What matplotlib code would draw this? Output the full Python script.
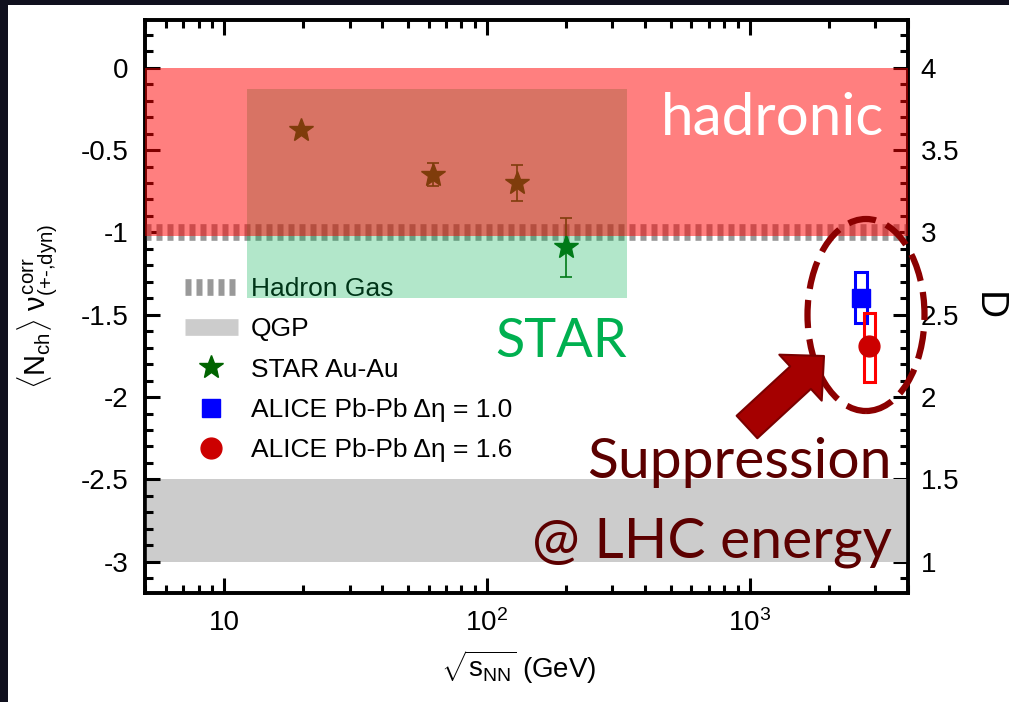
import matplotlib
matplotlib.use("Agg")
import matplotlib.pyplot as plt
import matplotlib.patches as mpatches
from matplotlib.lines import Line2D
from matplotlib.ticker import MultipleLocator, FixedLocator, FixedFormatter, LogLocator, NullFormatter, FormatStrFormatter

# data
star_x = [19.6, 62.4, 130.0, 200.0]
star_y = [-0.38, -0.65, -0.70, -1.09]
star_err = [0.0, 0.07, 0.11, 0.18]

alice10_x = [2650.0]
alice10_y = [-1.40]
alice10_sys = [(2512.0, 2793.0, -1.55, -1.24)]

alice16_x = [2850.0]
alice16_y = [-1.69]
alice16_sys = [(2716.0, 2992.0, -1.91, -1.49)]

hadron_gas_y = -1.0
qgp_band = (-3.0, -2.5)
hadronic_band = (-1.02, 0.0)
star_box_x = (12.2, 340.0)
star_box_y = (-1.40, -0.13)

xticks = [10, 100, 1000]
xtick_labels = ['10', r'$10^2$', r'$10^3$']

plt.rcParams['font.family'] = ['Liberation Sans', 'DejaVu Sans']
plt.rcParams['mathtext.fontset'] = 'custom'
plt.rcParams['mathtext.rm'] = 'Liberation Sans'
plt.rcParams['mathtext.it'] = 'Liberation Sans'
plt.rcParams['mathtext.bf'] = 'Liberation Sans:bold'
plt.rcParams['axes.unicode_minus'] = False

W, H = 1009, 702
fig = plt.figure(figsize=(W / 100, H / 100), dpi=100, facecolor='#10101e')
fig.add_artist(mpatches.Rectangle((8 / W, 0), 1, 1 - 5 / H, transform=fig.transFigure,
                                  facecolor='white', edgecolor='none', zorder=-10))

ax = fig.add_axes([145 / W, 1 - 593 / H, 763 / W, 573 / H])
ax2 = ax.twinx()
ax.set_zorder(1)
ax2.set_zorder(0)
ax.patch.set_visible(False)
ax2.patch.set_visible(True)
ax2.patch.set_facecolor('white')

ax.set_xscale('log')
ax.set_xlim(5, 4000)
ylim = (-3.19, 0.29)
ax.set_ylim(*ylim)
ax2.set_ylim(ylim[0] + 4, ylim[1] + 4)

# bands
ax.axhspan(qgp_band[0], qgp_band[1], color='#cccccc', lw=0, zorder=1)
ax.axhline(hadron_gas_y, color='#999999', lw=12, ls=(0, (0.36, 0.3)), zorder=2)
ax.fill_between(star_box_x, star_box_y[0], star_box_y[1], color='#00b050', alpha=0.3,
                lw=0, zorder=4)
ax.axhspan(hadronic_band[0], hadronic_band[1], color='#ff0000', alpha=0.5, lw=0, zorder=5)

# data
ax.errorbar(star_x, star_y, yerr=star_err, fmt='*', color='#006400', ms=18,
            capsize=4, elinewidth=1.2, capthick=1.2, zorder=3)
for x0, x1, y0, y1 in alice10_sys:
    ax.add_patch(mpatches.Rectangle((x0, y0), x1 - x0, y1 - y0, fill=False,
                                    ec='#0000ff', lw=2.2, zorder=3))
for x0, x1, y0, y1 in alice16_sys:
    ax.add_patch(mpatches.Rectangle((x0, y0), x1 - x0, y1 - y0, fill=False,
                                    ec='#ff0000', lw=2.2, zorder=3))
ax.plot(alice10_x, alice10_y, 's', color='#0000ff', ms=13, zorder=3.2)
ax.plot(alice16_x, alice16_y, 'o', color='#cc0000', ms=15, zorder=3.2)

# ticks
ax.xaxis.set_major_locator(FixedLocator(xticks))
ax.xaxis.set_major_formatter(FixedFormatter(xtick_labels))
ax.xaxis.set_minor_locator(LogLocator(base=10, subs=[2, 3, 4, 5, 6, 7, 8, 9]))
ax.xaxis.set_minor_formatter(NullFormatter())
ax.yaxis.set_major_locator(MultipleLocator(0.5))
ax.yaxis.set_minor_locator(MultipleLocator(0.1))
ax.yaxis.set_major_formatter(FormatStrFormatter('%g'))
ax.tick_params(which='both', direction='in', top=True, right=False, width=2.2,
               labelsize=20, color='black')
ax.tick_params(which='major', length=11)
ax.tick_params(which='minor', length=5.5)
ax.tick_params(axis='y', pad=12)
ax.tick_params(axis='x', which='major', pad=12)

ax2.yaxis.set_major_locator(MultipleLocator(0.5))
ax2.yaxis.set_minor_locator(MultipleLocator(0.1))
ax2.yaxis.set_major_formatter(FormatStrFormatter('%g'))
ax2.tick_params(which='both', direction='in', width=2.2, labelsize=20, pad=9)
ax2.tick_params(which='major', length=11)
ax2.tick_params(which='minor', length=5.5)

for a in (ax, ax2):
    for s in a.spines.values():
        s.set_linewidth(2.6)

ax.set_xlabel(r'$\sqrt{s_{\rm NN}}$ (GeV)', fontsize=20)
ax.xaxis.set_label_coords(0.49, -0.098)
ax.set_ylabel(r'$\langle N_{\rm ch}\rangle\ \nu^{\rm corr}_{\text{(+-,dyn)}}$', fontsize=21)
ax.yaxis.set_label_coords(-0.111, 0.5)
ax2.set_ylabel('D', fontsize=28, rotation=270, va='center', ha='center')
ax2.yaxis.set_label_coords(1.105, 0.5)

# legend
handles = [
    Line2D([], [], color='#999999', lw=12, ls=(0, (0.36, 0.3))),
    Line2D([], [], color='#cccccc', lw=12, solid_capstyle='butt'),
    Line2D([], [], marker='*', color='#006400', ms=18, ls='none'),
    Line2D([], [], marker='s', color='#0000ff', ms=13, ls='none'),
    Line2D([], [], marker='o', color='#cc0000', ms=15, ls='none'),
]
labels = ['Hadron Gas', 'QGP', 'STAR Au-Au', 'ALICE Pb-Pb Δη = 1.0', 'ALICE Pb-Pb Δη = 1.6']
leg = ax.legend(handles, labels, loc='upper left', bbox_to_anchor=(185 / W, 1 - 277 / H),
                bbox_transform=fig.transFigure, frameon=False, fontsize=19,
                borderpad=0, borderaxespad=0, handlelength=2.0, handletextpad=0.5,
                labelspacing=0.62)
leg.set_zorder(3)

# slide annotations
def px(x, y):
    return (x / W, 1 - y / H)

fig.text(*px(884, 135), 'hadronic', color='white', fontsize=42, family='Lato',
         ha='right', va='baseline', zorder=10)
fig.text(*px(495, 357), 'STAR', color='#00b050', fontsize=39, family='Lato',
         ha='left', va='baseline', zorder=10)
fig.text(*px(892, 478), 'Suppression', color='#5c0000', fontsize=41, family='Lato',
         ha='right', va='baseline', zorder=10)
fig.text(*px(892, 558), '@ LHC energy', color='#5c0000', fontsize=41, family='Lato',
         ha='right', va='baseline', zorder=10)

fig.add_artist(mpatches.Ellipse(px(866, 315), 117 / W, 192 / H, transform=fig.transFigure,
                                fill=False, ec='#8b0000', lw=4.5, ls=(0, (4.5, 1.8)),
                                zorder=10))
fig.add_artist(mpatches.FancyArrowPatch(px(747, 427), px(824, 356), transform=fig.transFigure,
                                        arrowstyle='simple,head_length=23,head_width=45,tail_width=22',
                                        mutation_scale=1, shrinkA=0, shrinkB=0,
                                        fc='#a50000', ec='#7a0000', lw=1.5, zorder=11))

fig.savefig('out.png', dpi=100, facecolor=fig.get_facecolor())
